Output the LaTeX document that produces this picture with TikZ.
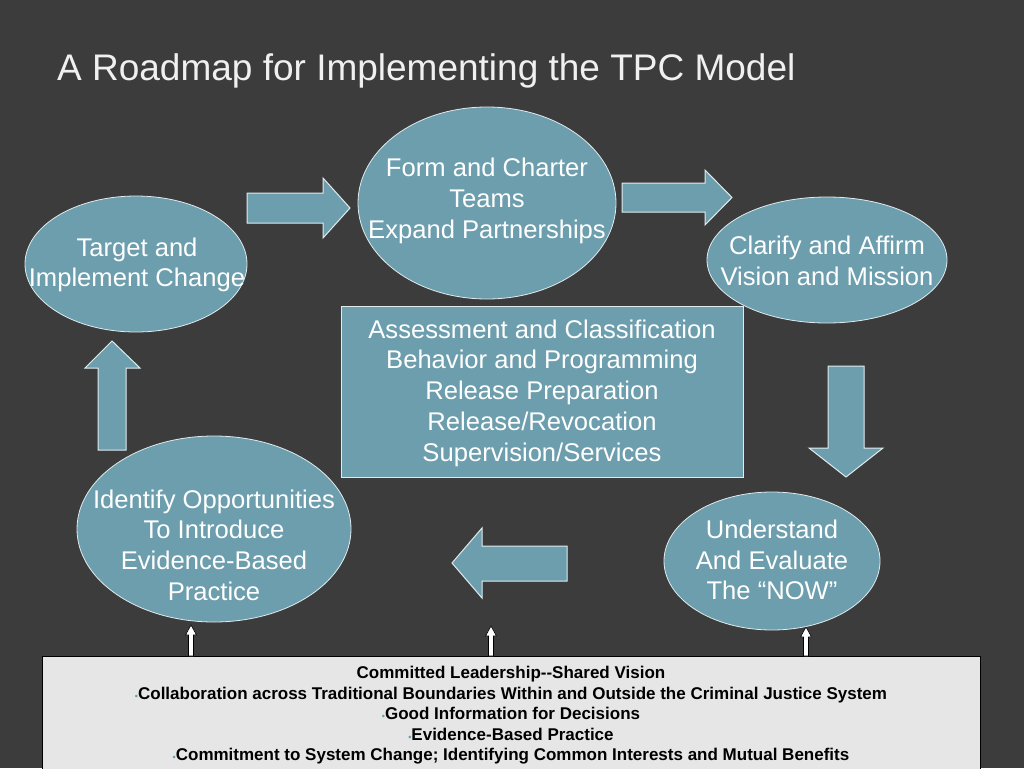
\documentclass[tikz,border=0pt]{standalone}
\usepackage{fontspec}
\setmainfont{Liberation Sans}
\usetikzlibrary{shapes.geometric,calc}
\definecolor{bg}{RGB}{60,60,60}
\definecolor{teal}{RGB}{108,158,173}
\definecolor{boxgray}{RGB}{230,230,230}
\definecolor{edge}{RGB}{225,235,238}
\newcommand{\tealdot}{{\color{teal}\fontsize{9}{9}\selectfont•}}
\begin{document}
\begin{tikzpicture}[x=1pt,y=-1pt,
  ell/.style={ellipse, draw=edge, line width=0.8pt, fill=teal, inner sep=0pt},
  etext/.style={align=center, text=white, font=\fontsize{25.6}{30.7}\selectfont},
  blockarrow/.style={draw=edge, line width=1pt, fill=teal, line join=miter},
  thinarrow/.style={draw=black, line width=0.6pt, fill=white}
]
\useasboundingbox (0,0) rectangle (1024,768);
\fill[bg] (0,0) rectangle (1024,768);

\node[anchor=base west, text=white!94!black, font=\fontsize{37}{40}\selectfont, inner sep=0pt] (title) at (57,80) {A Roadmap for Implementing the TPC Model};

% ellipses
\node[ell, minimum width=258, minimum height=192] (form) at (487,203) {};
\node[etext] at (487,201) {Form and Charter\\Teams\\Expand Partnerships};

\node[ell, minimum width=222, minimum height=136] (target) at (136,264) {};
\node[etext] at (137,265) {Target and\\Implement Change};

\node[ell, minimum width=240, minimum height=126] (clarify) at (827,260) {};
\node[etext] at (827,261) {Clarify and Affirm\\Vision and Mission};

\node[ell, minimum width=274, minimum height=186] (identify) at (214,529) {};
\node[etext] at (214,545) {Identify Opportunities\\To Introduce\\Evidence-Based\\Practice};

\node[ell, minimum width=216, minimum height=138] (understand) at (772,561) {};
\node[etext] at (772,560) {Understand\\And Evaluate\\The “NOW”};

% central rectangle
\node[draw=edge, line width=0.8pt, fill=teal, minimum width=402, minimum height=171, inner sep=0pt] (core) at (542,391.5) {};
\node[etext] at (542,393) {Assessment and Classification\\Behavior and Programming\\Release Preparation\\Release/Revocation\\Supervision/Services};

% block arrows
\draw[blockarrow] (247,193) -- (323,193) -- (323,178) -- (350,208) -- (323,238) -- (323,223) -- (247,223) -- cycle;
\draw[blockarrow] (622,183) -- (705,183) -- (705,170) -- (732,197.5) -- (705,225) -- (705,212) -- (622,212) -- cycle;
\draw[blockarrow] (828,366) -- (864,366) -- (864,448) -- (883,448) -- (846,477) -- (809,448) -- (828,448) -- cycle;
\draw[blockarrow] (98,450) -- (98,368) -- (85,368) -- (112,341) -- (140,368) -- (126,368) -- (126,450) -- cycle;
\draw[blockarrow] (567,546) -- (482,546) -- (482,528) -- (452,563) -- (482,598) -- (482,581) -- (567,581) -- cycle;

% bottom box
\node[draw=black, line width=1pt, fill=boxgray, minimum width=938, minimum height=120, inner sep=0pt, anchor=north west] (base) at (42,656) {};
\node[align=center, font=\bfseries\fontsize{17}{20.5}\selectfont, anchor=north, inner sep=0pt] (basetext) at (511,666) {%
Committed Leadership{-}{-}Shared Vision\\
\tealdot Collaboration across Traditional Boundaries Within and Outside the Criminal Justice System\\
\tealdot Good Information for Decisions\\
\tealdot Evidence-Based Practice\\
\tealdot Commitment to System Change; Identifying Common Interests and Mutual Benefits};

% thin white arrows from base box to ellipses
\coordinate (a1) at (191,656);
\coordinate (a2) at (491,656);
\coordinate (a3) at (806,656);
\foreach \c/\t in {a1/625, a2/626, a3/627} {
  \draw[thinarrow] ($(\c)+(-2.5,0)$) -- ($(\c)+(-2.5,{-(656-\t-10)})$) -- ($(\c)+(-5.5,{-(656-\t-10)})$) -- ($(\c)+(0,{-(656-\t)})$) -- ($(\c)+(5.5,{-(656-\t-10)})$) -- ($(\c)+(2.5,{-(656-\t-10)})$) -- ($(\c)+(2.5,0)$) -- cycle;
}
\end{tikzpicture}
\end{document}
